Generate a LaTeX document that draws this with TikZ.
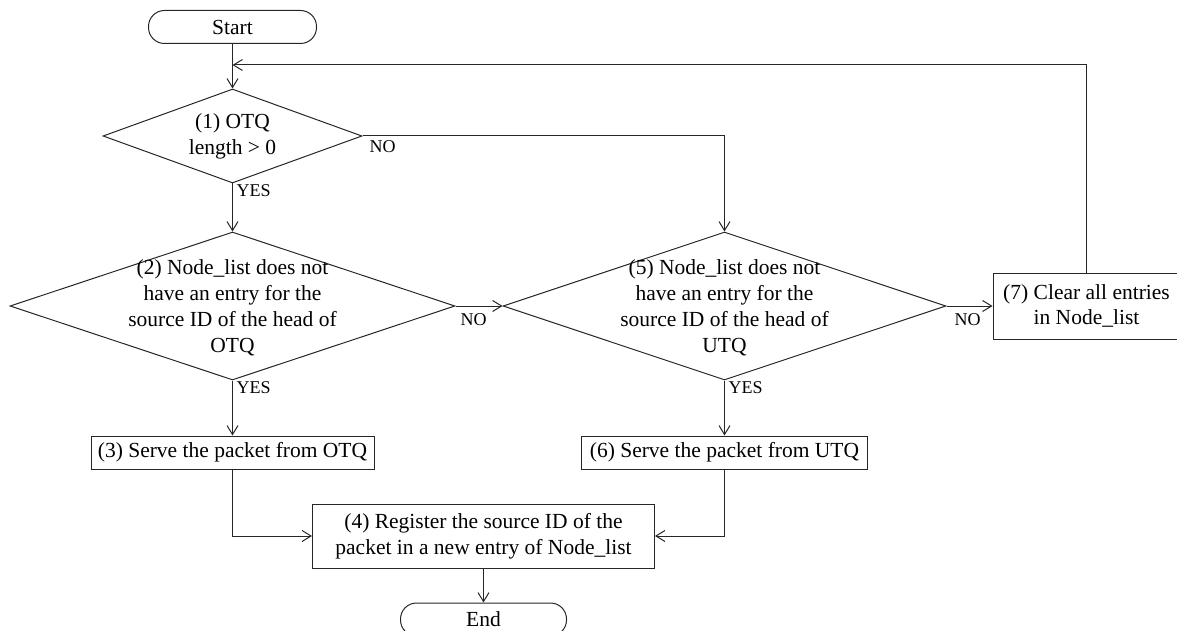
\documentclass[tikz,border=0pt]{standalone}
\usepackage{fontspec}
\setmainfont{Liberation Serif}
\usetikzlibrary{shapes.geometric,arrows.meta}

\tikzset{
  line/.style={draw=black!85, line width=1pt},
  arr/.style={line, -{Straight Barb[length=9pt,width=11pt,line width=1pt]}},
  terminal/.style={line, rectangle, rounded corners=16pt, minimum width=168pt,
    minimum height=33pt, inner sep=0pt, font=\fontsize{21.5}{25}\selectfont},
  stepbox/.style={line, rectangle, inner sep=0pt, align=center,
    font=\fontsize{21.5}{25.5}\selectfont},
  decision/.style={line, diamond, inner sep=0pt},
  dtext/.style={align=center, inner sep=0pt, font=\fontsize{21.5}{26}\selectfont},
  lbl/.style={inner sep=0pt, font=\fontsize{18}{20}\selectfont},
}

\begin{document}
\begin{tikzpicture}[x=1pt,y=-1pt]
  \useasboundingbox (0,0) rectangle (1177,631);

  % terminals
  \node[terminal] (start) at (232.5,27) {Start};
  \node[terminal, minimum width=166pt] (end) at (483.5,619.5) {End};

  % decisions (outline and text are separate nodes)
  \node[decision, minimum width=259pt, minimum height=94pt] (d1) at (232.5,136) {};
  \node[dtext] (t1) at (d1.center) {(1) OTQ\\length > 0};

  \node[decision, minimum width=445pt, minimum height=148pt] (d2) at (232.5,306) {};
  \node[dtext] (t2) at ([yshift=-2pt]d2.center)
    {(2) Node\_list does not\\have an entry for the\\source ID of the head of\\OTQ};

  \node[decision, minimum width=443pt, minimum height=148pt] (d5) at (724.5,306) {};
  \node[dtext] (t5) at ([yshift=-2pt]d5.center)
    {(5) Node\_list does not\\have an entry for the\\source ID of the head of\\UTQ};

  % process steps
  \node[stepbox, minimum width=283pt, minimum height=33pt] (b3) at (232.5,452.5)
    {(3) Serve the packet from OTQ};
  \node[stepbox, minimum width=286pt, minimum height=33pt] (b6) at (724.5,452.5)
    {(6) Serve the packet from UTQ};
  \node[stepbox, minimum width=342pt, minimum height=64pt] (b4) at (483.5,536)
    {(4) Register the source ID of the\\packet in a new entry of Node\_list};
  \node[stepbox, minimum width=187pt, minimum height=66pt] (b7) at (1086.5,306)
    {(7) Clear all entries\\in Node\_list};

  % loop-back junction above decision (1)
  \coordinate (merge) at (232.5,65);

  % connectors
  \draw[arr] (start.south) -- (d1.north);
  \draw[arr] (b7.north) |- (merge);
  \draw[arr] (d1.east) -| (d5.north);
  \draw[arr] (d1.south) -- (d2.north);
  \draw[arr] (d2.east) -- (d5.west);
  \draw[arr] (d5.east) -- (b7.west);
  \draw[arr] (d2.south) -- (b3.north);
  \draw[arr] (d5.south) -- (b6.north);
  \draw[arr] (b3.south) |- (b4.west);
  \draw[arr] (b6.south) |- (b4.east);
  \draw[arr] (b4.south) -- (end.north);

  % branch labels
  \node[lbl, anchor=north west] (n1) at ([xshift=7pt,yshift=-4pt]d1.east) {NO};
  \node[lbl, anchor=north west] (y1) at ([xshift=4pt,yshift=-1pt]d1.south) {YES};
  \node[lbl, anchor=north] (n2) at ([xshift=18pt,yshift=-7pt]d2.east) {NO};
  \node[lbl, anchor=north west] (y2) at ([xshift=4pt,yshift=-1pt]d2.south) {YES};
  \node[lbl, anchor=north] (n5) at ([xshift=21pt,yshift=-7pt]d5.east) {NO};
  \node[lbl, anchor=north west] (y5) at ([xshift=4pt,yshift=-1pt]d5.south) {YES};
\end{tikzpicture}
\end{document}
